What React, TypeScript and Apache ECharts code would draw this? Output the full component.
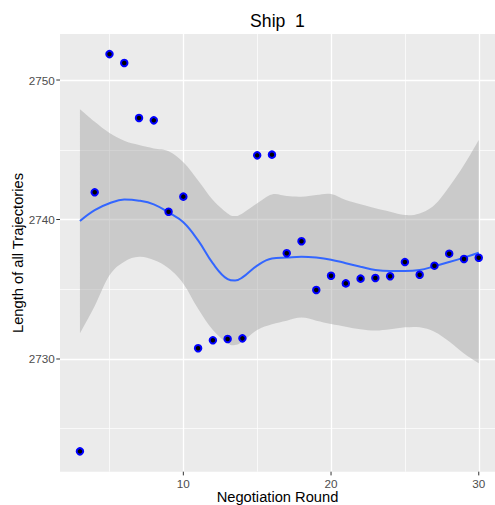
import React, { useEffect, useRef } from "react";
import * as echarts from "echarts";

const rounds = [3, 4, 5, 6, 7, 8, 9, 10, 11, 12, 13, 14, 15, 16, 17, 18, 19, 20, 21, 22, 23, 24, 25, 26, 27, 28, 29, 30];
const lengths = [
  2723.38, 2741.95, 2751.86, 2751.22, 2747.28, 2747.11, 2740.56, 2741.64, 2730.77, 2731.34,
  2731.43, 2731.48, 2744.6, 2744.65, 2737.58, 2738.44, 2734.95, 2735.97, 2735.42, 2735.76,
  2735.81, 2735.93, 2736.95, 2736.04, 2736.69, 2737.55, 2737.17, 2737.26,
];

const smoothX = [3, 4, 5, 6, 7, 8, 9, 10, 11, 12, 13, 13.5, 14, 15, 16, 17, 18, 19, 20, 21, 22, 23, 24, 25, 26, 27, 28, 29, 30];
const smoothFit = [
  2739.9, 2740.68, 2741.17, 2741.43, 2741.35, 2741.09, 2740.5, 2739.8, 2738.5, 2736.85,
  2735.72, 2735.62, 2735.85, 2736.7, 2737.2, 2737.27, 2737.33, 2737.27, 2737.12, 2736.87,
  2736.62, 2736.38, 2736.3, 2736.3, 2736.38, 2736.65, 2736.95, 2737.27, 2737.62,
];
const smoothUpper = [
  2747.9, 2747.0, 2746.2, 2745.65, 2745.34, 2745.1, 2744.9, 2744.1, 2742.8, 2741.4,
  2740.44, 2740.25, 2740.44, 2741.16, 2741.8, 2741.68, 2741.64, 2741.76, 2741.83, 2741.4,
  2741.09, 2740.8, 2740.56, 2740.32, 2740.44, 2741.04, 2742.35, 2743.9, 2745.7,
];
const smoothLower = [
  2731.84, 2733.8, 2736.0, 2736.98, 2737.33, 2737.1, 2736.5, 2735.4, 2733.6, 2732.08,
  2731.13, 2731.0, 2731.25, 2732.08, 2732.49, 2732.75, 2732.97, 2732.75, 2732.51, 2732.32,
  2732.13, 2732.04, 2732.13, 2732.27, 2732.27, 2731.96, 2731.25, 2730.4, 2729.7,
];

const xTicks = [10, 20, 30];
const xMinor = [5, 15, 25];
const yTicks = [2730, 2740, 2750];
const yMinor = [2725, 2735, 2745];

const X_MIN = 1.65;
const X_MAX = 31.1;
const Y_MIN = 2721.92;
const Y_MAX = 2753.3;
const TICK_LEN = 3.7;

const FONT = "Liberation Sans, Arial, Helvetica, sans-serif";

type Pt = number[];

// Catmull-Rom style bezier through the given pixel points (open curve)
function curvePath(pts: Pt[], k: number, moveFirst: boolean): string {
  let d = (moveFirst ? "M" : "L") + pts[0][0].toFixed(2) + " " + pts[0][1].toFixed(2);
  for (let i = 0; i < pts.length - 1; i++) {
    const p0 = pts[Math.max(0, i - 1)];
    const p1 = pts[i];
    const p2 = pts[i + 1];
    const p3 = pts[Math.min(pts.length - 1, i + 2)];
    const c1x = p1[0] + (p2[0] - p0[0]) * k;
    const c1y = p1[1] + (p2[1] - p0[1]) * k;
    const c2x = p2[0] - (p3[0] - p1[0]) * k;
    const c2y = p2[1] - (p3[1] - p1[1]) * k;
    d += ` C${c1x.toFixed(2)} ${c1y.toFixed(2)} ${c2x.toFixed(2)} ${c2y.toFixed(2)} ${p2[0].toFixed(2)} ${p2[1].toFixed(2)}`;
  }
  return d;
}

export default function App() {
  const ref = useRef<HTMLDivElement>(null);
  useEffect(() => {
    const chart = echarts.init(ref.current!, null, { renderer: "svg" });
    const gridLines = [
      ...xMinor.map((v) => ({ xAxis: v, lineStyle: { width: 0.7 } })),
      ...yMinor.map((v) => ({ yAxis: v, lineStyle: { width: 0.7 } })),
      ...xTicks.map((v) => ({ xAxis: v, lineStyle: { width: 1.3 } })),
      ...yTicks.map((v) => ({ yAxis: v, lineStyle: { width: 1.3 } })),
    ];
    const axisCommon = (ticks: number[]) => ({
      type: "value",
      axisLine: { show: false },
      axisTick: { show: false },
      axisLabel: {
        customValues: ticks,
        color: "#4D4D4D",
        fontSize: 11.7,
        fontFamily: FONT,
        margin: 5.3,
        formatter: (v: number) => String(v),
      },
      splitLine: { show: false },
      minorSplitLine: { show: false },
    });
    const tickStyle = { stroke: "#333333", lineWidth: 1 };
    chart.setOption({
      animation: false,
      grid: {
        left: 60,
        right: 0,
        top: 34,
        bottom: 33.3,
        show: true,
        backgroundColor: "#EBEBEB",
        borderWidth: 0,
      },
      xAxis: { ...axisCommon(xTicks), min: X_MIN, max: X_MAX },
      yAxis: { ...axisCommon(yTicks), min: Y_MIN, max: Y_MAX },
      graphic: [
        {
          type: "text",
          x: 277.5,
          y: 21,
          style: {
            text: "Ship  1",
            fill: "#000",
            font: `17.6px ${FONT}`,
            textAlign: "center",
            textVerticalAlign: "middle",
          },
        },
        {
          type: "text",
          x: 277.5,
          y: 496.5,
          style: {
            text: "Negotiation Round",
            fill: "#000",
            font: `14.7px ${FONT}`,
            textAlign: "center",
            textVerticalAlign: "middle",
          },
        },
        {
          type: "text",
          x: 18.3,
          y: 253,
          rotation: Math.PI / 2,
          style: {
            text: "Length of all Trajectories",
            fill: "#000",
            font: `14.7px ${FONT}`,
            textAlign: "center",
            textVerticalAlign: "middle",
          },
        },
      ],
      series: [
        {
          type: "custom",
          name: "xticks",
          silent: true,
          clip: false,
          z: 5,
          encode: { x: 0, y: 1 },
          data: xTicks.map((v) => [v, Y_MIN]),
          renderItem: (params: any, api: any) => {
            const p = api.coord([api.value(0), Y_MIN]);
            return {
              type: "line",
              shape: { x1: p[0], y1: p[1], x2: p[0], y2: p[1] + TICK_LEN },
              style: tickStyle,
            };
          },
        },
        {
          type: "custom",
          name: "yticks",
          silent: true,
          clip: false,
          z: 5,
          encode: { x: 0, y: 1 },
          data: yTicks.map((v) => [X_MIN, v]),
          renderItem: (params: any, api: any) => {
            const p = api.coord([X_MIN, api.value(1)]);
            return {
              type: "line",
              shape: { x1: p[0] - TICK_LEN, y1: p[1], x2: p[0], y2: p[1] },
              style: tickStyle,
            };
          },
        },
        {
          type: "custom",
          name: "band",
          z: 2,
          silent: true,
          clip: true,
          encode: { x: 0, y: [1, 2] },
          data: smoothX.map((x, i) => [x, smoothLower[i], smoothUpper[i]]),
          renderItem: (params: any, api: any) => {
            if (params.dataIndex !== 0) return null;
            const up = smoothX.map((x, i) => api.coord([x, smoothUpper[i]]));
            const lo = smoothX.map((x, i) => api.coord([x, smoothLower[i]])).reverse();
            const d = curvePath(up, 0.18, true) + " " + curvePath(lo, 0.18, false) + " Z";
            return {
              type: "path",
              shape: { pathData: d },
              style: { fill: "rgba(153,153,153,0.4)", stroke: "none" },
            };
          },
        },
        {
          type: "line",
          name: "fit",
          smooth: 0.4,
          showSymbol: false,
          silent: true,
          z: 3,
          lineStyle: { color: "#3366FF", width: 2 },
          data: smoothX.map((x, i) => [x, smoothFit[i]]),
        },
        {
          type: "scatter",
          name: "points",
          z: 4,
          symbolSize: 6.5,
          itemStyle: { color: "#000000", borderColor: "#0000FF", borderWidth: 2, opacity: 1 },
          data: rounds.map((x, i) => [x, lengths[i]]),
          markLine: {
            silent: true,
            z: 1,
            symbol: ["none", "none"],
            label: { show: false },
            lineStyle: { color: "#FFFFFF", type: "solid", width: 1.3 },
            emphasis: { disabled: true },
            data: gridLines,
          },
        },
      ],
    });
    return () => chart.dispose();
  }, []);
  return <div ref={ref} style={{ position: "absolute", left: 0, top: 0, width: 495, height: 505 }} />;
}
